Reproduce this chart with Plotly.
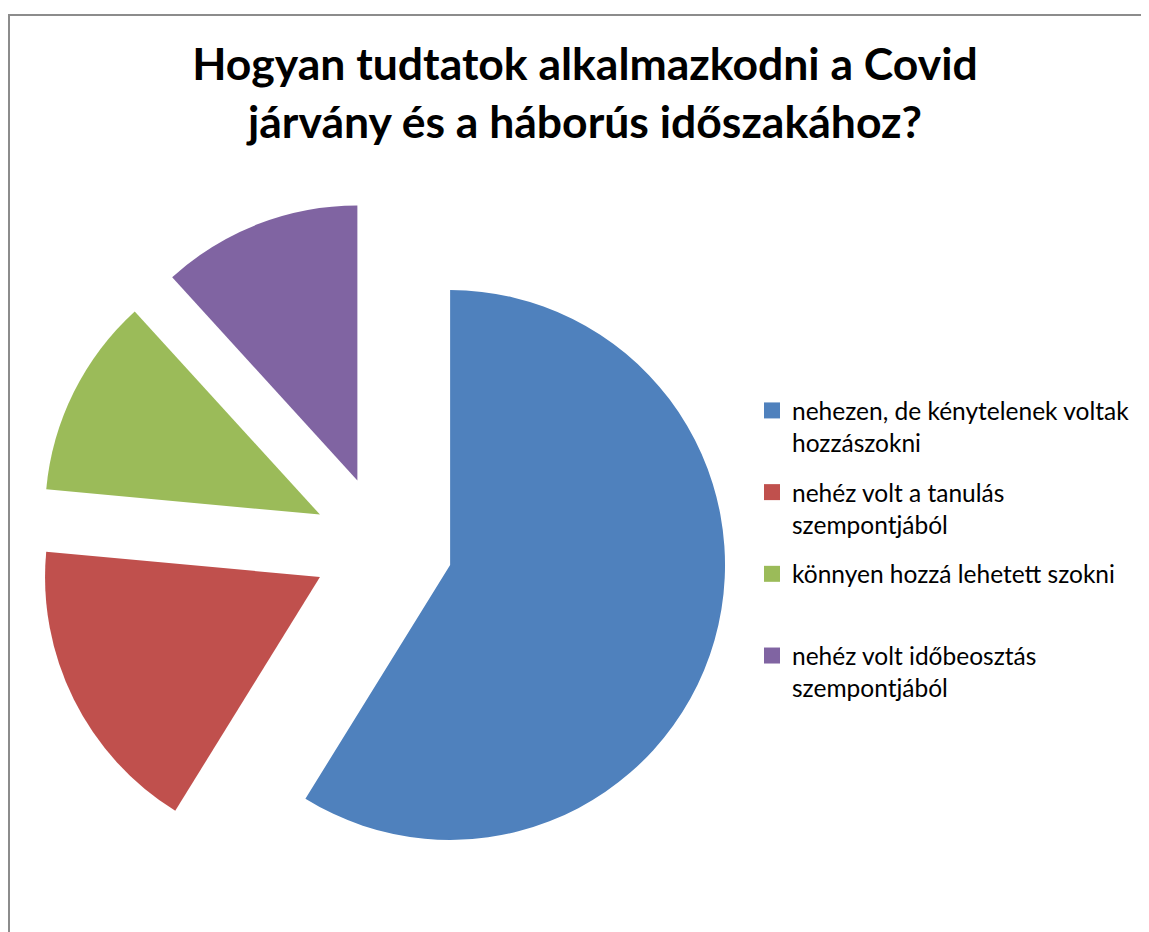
import plotly.graph_objects as go

title_lines = ["Hogyan tudtatok alkalmazkodni a Covid", "járvány és a háborús időszakához?"]
labels = [
    "nehezen, de kénytelenek voltak<br>hozzászokni",
    "nehéz volt a tanulás<br>szempontjából",
    "könnyen hozzá lehetett szokni<br> ",
    "nehéz volt időbeosztás<br>szempontjából",
]
values = [10, 3, 2, 2]
colors = ["#4F81BD", "#C0504D", "#9BBB59", "#8064A2"]

W, H = 1141, 924
fig = go.Figure()
fig.add_trace(go.Pie(
    labels=labels, values=values, sort=False, direction="clockwise", rotation=0,
    pull=[0.255] * len(values), textinfo="none", showlegend=False,
    marker=dict(colors=colors, line=dict(width=0)),
    domain=dict(x=[29.7 / W, 719.7 / W], y=[1 - 882.8 / H, 1 - 192.8 / H]),
))
for i, (lab, col) in enumerate(zip(labels, colors)):
    fig.add_trace(go.Scatter(
        x=[None], y=[None], mode="markers", name=lab, legendgroup=f"g{i}",
        marker=dict(symbol="square", size=16, color=col),
    ))

fig.update_layout(
    width=W, height=H, margin=dict(l=0, r=0, t=0, b=0),
    paper_bgcolor="white", plot_bgcolor="white",
    xaxis=dict(visible=False), yaxis=dict(visible=False),
    title=dict(text="<b>" + "<br>".join(title_lines) + "</b>", x=577 / W, xanchor="center",
               y=1 - 72 / H, yanchor="top", yref="container",
               font=dict(family="Lato", size=44.5, color="black")),
    legend=dict(x=744 / W, xanchor="left", y=1 - 380 / H, yanchor="top",
                valign="top", tracegroupgap=15,
                font=dict(family="Lato", size=24.5, color="black"), bgcolor="rgba(0,0,0,0)"),
    shapes=[dict(type="rect", xref="paper", yref="paper", x0=1 / W, x1=1.05,
                 y0=-0.05, y1=1 - 7 / H, line=dict(color="#8c8c8c", width=2))],
)
fig.write_html("out.html")
